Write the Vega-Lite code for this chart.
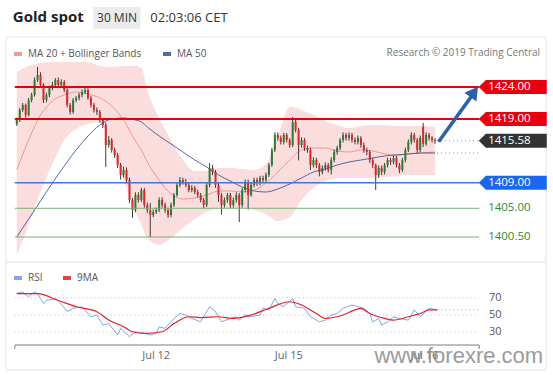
{
"$schema": "https://vega.github.io/schema/vega-lite/v6.json",
"width": 553, "height": 375,
"autosize": {"type": "fit", "contains": "padding"},
"padding": 0,
"background": "#ffffff",
"config": {"view": {"stroke": null}, "font": "Open Sans", "legend": {"padding": 0}},
"datasets": {
"candles": [
{"i":0,"o":1418.2,"h":1419.2,"l":1417.9,"c":1418.83},{"i":1,"o":1418.83,"h":1420.7,"l":1418.5,"c":1420.4},{"i":2,"o":1420.4,"h":1421.5,"l":1420.1,"c":1421.18},{"i":3,"o":1421.18,"h":1421.4,"l":1419.2,"c":1419.61},{"i":4,"o":1419.61,"h":1422.3,"l":1419.4,"c":1421.96},{"i":5,"o":1421.96,"h":1423.1,"l":1421.6,"c":1422.75},{"i":6,"o":1422.75,"h":1425.5,"l":1422.5,"c":1425.1},{"i":7,"o":1425.1,"h":1427.13,"l":1424.8,"c":1425.88},{"i":8,"o":1425.88,"h":1426.3,"l":1424.0,"c":1424.31},{"i":9,"o":1424.31,"h":1424.6,"l":1421.5,"c":1421.96},
{"i":10,"o":1421.96,"h":1423.1,"l":1421.6,"c":1422.75},{"i":11,"o":1422.75,"h":1424.2,"l":1422.4,"c":1423.84},{"i":12,"o":1423.84,"h":1424.8,"l":1423.5,"c":1424.31},{"i":13,"o":1424.31,"h":1425.4,"l":1424.0,"c":1425.1},{"i":14,"o":1425.1,"h":1425.5,"l":1424.0,"c":1424.31},{"i":15,"o":1424.31,"h":1425.2,"l":1424.0,"c":1424.78},{"i":16,"o":1424.78,"h":1425.1,"l":1423.2,"c":1423.53},{"i":17,"o":1423.53,"h":1423.8,"l":1420.8,"c":1421.18},{"i":18,"o":1421.18,"h":1421.5,"l":1419.7,"c":1420.08},{"i":19,"o":1420.08,"h":1422.3,"l":1419.8,"c":1421.96},
{"i":20,"o":1421.96,"h":1422.6,"l":1421.6,"c":1422.28},{"i":21,"o":1422.28,"h":1423.1,"l":1421.9,"c":1422.75},{"i":22,"o":1422.75,"h":1423.6,"l":1422.4,"c":1423.22},{"i":23,"o":1423.22,"h":1424.0,"l":1422.9,"c":1423.53},{"i":24,"o":1423.53,"h":1423.8,"l":1422.0,"c":1422.28},{"i":25,"o":1422.28,"h":1422.6,"l":1420.8,"c":1421.18},{"i":26,"o":1421.18,"h":1421.5,"l":1420.0,"c":1420.4},{"i":27,"o":1420.4,"h":1420.8,"l":1419.6,"c":1420.08},{"i":28,"o":1420.08,"h":1420.4,"l":1418.4,"c":1418.83},{"i":29,"o":1418.83,"h":1419.1,"l":1417.6,"c":1418.05},
{"i":30,"o":1418.05,"h":1418.4,"l":1411.47,"c":1414.91},{"i":31,"o":1414.91,"h":1416.3,"l":1414.5,"c":1415.7},{"i":32,"o":1415.7,"h":1416.0,"l":1413.7,"c":1414.13},{"i":33,"o":1414.13,"h":1414.5,"l":1412.9,"c":1413.35},{"i":34,"o":1413.35,"h":1413.7,"l":1411.3,"c":1411.78},{"i":35,"o":1411.78,"h":1412.1,"l":1409.5,"c":1410.21},{"i":36,"o":1410.21,"h":1411.5,"l":1409.8,"c":1411.0},{"i":37,"o":1411.0,"h":1411.4,"l":1409.0,"c":1409.43},{"i":38,"o":1409.43,"h":1409.8,"l":1405.8,"c":1406.3},{"i":39,"o":1406.3,"h":1406.6,"l":1403.5,"c":1404.73},
{"i":40,"o":1404.73,"h":1407.5,"l":1404.4,"c":1407.08},{"i":41,"o":1407.08,"h":1407.5,"l":1405.9,"c":1406.3},{"i":42,"o":1406.3,"h":1408.2,"l":1406.0,"c":1407.86},{"i":43,"o":1407.86,"h":1408.2,"l":1405.1,"c":1405.51},{"i":44,"o":1405.51,"h":1405.9,"l":1404.3,"c":1404.73},{"i":45,"o":1404.73,"h":1405.8,"l":1400.5,"c":1403.95},{"i":46,"o":1403.95,"h":1404.8,"l":1403.6,"c":1404.42},{"i":47,"o":1404.42,"h":1405.1,"l":1404.1,"c":1404.73},{"i":48,"o":1404.73,"h":1406.7,"l":1404.4,"c":1406.3},{"i":49,"o":1406.3,"h":1406.7,"l":1405.1,"c":1405.51},
{"i":50,"o":1405.51,"h":1405.9,"l":1404.3,"c":1404.73},{"i":51,"o":1404.73,"h":1405.1,"l":1403.5,"c":1403.95},{"i":52,"o":1403.95,"h":1405.9,"l":1403.6,"c":1405.51},{"i":53,"o":1405.51,"h":1407.4,"l":1405.2,"c":1407.08},{"i":54,"o":1407.08,"h":1409.0,"l":1406.8,"c":1408.65},{"i":55,"o":1408.65,"h":1409.9,"l":1408.3,"c":1409.43},{"i":56,"o":1409.43,"h":1409.8,"l":1408.7,"c":1409.12},{"i":57,"o":1409.12,"h":1409.6,"l":1408.3,"c":1408.65},{"i":58,"o":1408.65,"h":1409.0,"l":1407.5,"c":1407.86},{"i":59,"o":1407.86,"h":1408.6,"l":1407.5,"c":1408.18},
{"i":60,"o":1408.18,"h":1408.5,"l":1407.2,"c":1407.55},{"i":61,"o":1407.55,"h":1407.9,"l":1406.7,"c":1407.08},{"i":62,"o":1407.08,"h":1407.4,"l":1405.9,"c":1406.3},{"i":63,"o":1406.3,"h":1406.6,"l":1405.0,"c":1405.51},{"i":64,"o":1405.51,"h":1409.0,"l":1405.2,"c":1408.65},{"i":65,"o":1408.65,"h":1412.09,"l":1408.3,"c":1411.31},{"i":66,"o":1411.31,"h":1411.8,"l":1410.2,"c":1410.68},{"i":67,"o":1410.68,"h":1411.0,"l":1408.2,"c":1408.65},{"i":68,"o":1408.65,"h":1409.0,"l":1406.0,"c":1407.08},{"i":69,"o":1407.08,"h":1407.4,"l":1404.0,"c":1405.51},
{"i":70,"o":1405.51,"h":1406.7,"l":1405.1,"c":1406.3},{"i":71,"o":1406.3,"h":1407.4,"l":1405.9,"c":1407.08},{"i":72,"o":1407.08,"h":1407.4,"l":1405.0,"c":1405.51},{"i":73,"o":1405.51,"h":1406.7,"l":1405.1,"c":1406.3},{"i":74,"o":1406.3,"h":1407.5,"l":1405.9,"c":1407.08},{"i":75,"o":1407.08,"h":1407.4,"l":1402.85,"c":1405.51},{"i":76,"o":1405.51,"h":1408.2,"l":1405.1,"c":1407.86},{"i":77,"o":1407.86,"h":1409.5,"l":1407.5,"c":1409.12},{"i":78,"o":1409.12,"h":1409.5,"l":1404.8,"c":1407.08},{"i":79,"o":1407.08,"h":1409.0,"l":1406.8,"c":1408.65},
{"i":80,"o":1408.65,"h":1409.8,"l":1408.3,"c":1409.43},{"i":81,"o":1409.43,"h":1409.8,"l":1408.5,"c":1408.96},{"i":82,"o":1408.96,"h":1410.1,"l":1408.6,"c":1409.74},{"i":83,"o":1409.74,"h":1410.1,"l":1409.0,"c":1409.43},{"i":84,"o":1409.43,"h":1410.6,"l":1409.1,"c":1410.21},{"i":85,"o":1410.21,"h":1412.1,"l":1409.9,"c":1411.78},{"i":86,"o":1411.78,"h":1414.5,"l":1411.5,"c":1414.13},{"i":87,"o":1414.13,"h":1416.9,"l":1413.8,"c":1416.48},{"i":88,"o":1416.48,"h":1416.9,"l":1415.6,"c":1416.01},{"i":89,"o":1416.01,"h":1416.4,"l":1415.0,"c":1415.38},
{"i":90,"o":1415.38,"h":1416.8,"l":1415.0,"c":1416.48},{"i":91,"o":1416.48,"h":1416.8,"l":1415.3,"c":1415.7},{"i":92,"o":1415.7,"h":1416.0,"l":1414.5,"c":1414.91},{"i":93,"o":1414.91,"h":1419.3,"l":1414.6,"c":1418.52},{"i":94,"o":1418.52,"h":1418.9,"l":1416.9,"c":1417.26},{"i":95,"o":1417.26,"h":1417.6,"l":1412.5,"c":1414.91},{"i":96,"o":1414.91,"h":1416.1,"l":1414.5,"c":1415.7},{"i":97,"o":1415.7,"h":1416.0,"l":1414.0,"c":1414.44},{"i":98,"o":1414.44,"h":1414.8,"l":1413.7,"c":1414.13},{"i":99,"o":1414.13,"h":1414.5,"l":1411.0,"c":1411.78},
{"i":100,"o":1411.78,"h":1413.0,"l":1411.4,"c":1412.56},{"i":101,"o":1412.56,"h":1412.9,"l":1411.3,"c":1411.78},{"i":102,"o":1411.78,"h":1412.1,"l":1410.0,"c":1410.68},{"i":103,"o":1410.68,"h":1411.7,"l":1410.3,"c":1411.31},{"i":104,"o":1411.31,"h":1412.2,"l":1410.9,"c":1411.78},{"i":105,"o":1411.78,"h":1412.1,"l":1410.6,"c":1411.0},{"i":106,"o":1411.0,"h":1413.0,"l":1410.3,"c":1412.56},{"i":107,"o":1412.56,"h":1414.2,"l":1412.2,"c":1413.82},{"i":108,"o":1413.82,"h":1414.8,"l":1413.4,"c":1414.44},{"i":109,"o":1414.44,"h":1416.0,"l":1414.1,"c":1415.7},
{"i":110,"o":1415.7,"h":1416.9,"l":1415.3,"c":1416.48},{"i":111,"o":1416.48,"h":1416.8,"l":1415.6,"c":1416.01},{"i":112,"o":1416.01,"h":1416.9,"l":1415.6,"c":1416.48},{"i":113,"o":1416.48,"h":1416.8,"l":1415.3,"c":1415.7},{"i":114,"o":1415.7,"h":1416.1,"l":1415.0,"c":1415.38},{"i":115,"o":1415.38,"h":1416.4,"l":1415.0,"c":1416.01},{"i":116,"o":1416.01,"h":1416.3,"l":1414.5,"c":1414.91},{"i":117,"o":1414.91,"h":1415.3,"l":1413.7,"c":1414.13},{"i":118,"o":1414.13,"h":1414.5,"l":1413.3,"c":1413.82},{"i":119,"o":1413.82,"h":1414.1,"l":1412.1,"c":1412.56},
{"i":120,"o":1412.56,"h":1412.9,"l":1411.3,"c":1411.78},{"i":121,"o":1411.78,"h":1412.0,"l":1407.86,"c":1410.21},{"i":122,"o":1410.21,"h":1411.7,"l":1409.8,"c":1411.31},{"i":123,"o":1411.31,"h":1411.7,"l":1410.2,"c":1410.68},{"i":124,"o":1410.68,"h":1412.1,"l":1410.3,"c":1411.78},{"i":125,"o":1411.78,"h":1412.9,"l":1411.4,"c":1412.56},{"i":126,"o":1412.56,"h":1412.9,"l":1411.8,"c":1412.25},{"i":127,"o":1412.25,"h":1413.2,"l":1411.9,"c":1412.88},{"i":128,"o":1412.88,"h":1413.2,"l":1411.4,"c":1411.78},{"i":129,"o":1411.78,"h":1412.1,"l":1410.5,"c":1411.0},
{"i":130,"o":1411.0,"h":1412.9,"l":1410.7,"c":1412.56},{"i":131,"o":1412.56,"h":1414.5,"l":1412.2,"c":1414.13},{"i":132,"o":1414.13,"h":1415.8,"l":1413.8,"c":1415.38},{"i":133,"o":1415.38,"h":1416.9,"l":1415.0,"c":1416.48},{"i":134,"o":1416.48,"h":1416.8,"l":1415.3,"c":1415.7},{"i":135,"o":1415.7,"h":1416.0,"l":1413.6,"c":1414.13},{"i":136,"o":1414.13,"h":1416.4,"l":1413.8,"c":1416.0},{"i":137,"o":1417.8,"h":1418.36,"l":1414.6,"c":1415.1},{"i":138,"o":1415.1,"h":1416.9,"l":1414.8,"c":1416.48},{"i":139,"o":1416.48,"h":1416.8,"l":1415.6,"c":1416.01},
{"i":140,"o":1416.01,"h":1416.3,"l":1415.3,"c":1415.7},{"i":141,"o":1415.7,"h":1416.0,"l":1415.1,"c":1415.58}
],
"bands": [
{"i":0,"up":1426.35,"lo":1397.68,"ma20":1411.0,"ma50":1400.5},{"i":4,"up":1427.29,"lo":1402.38,"ma20":1415.7,"ma50":1403.32},{"i":8,"up":1427.76,"lo":1407.55,"ma20":1419.61,"ma50":1406.14},{"i":12,"up":1427.92,"lo":1411.94,"ma20":1421.81,"ma50":1408.96},{"i":16,"up":1427.92,"lo":1415.7,"ma20":1422.75,"ma50":1411.62},{"i":20,"up":1427.92,"lo":1417.42,"ma20":1423.22,"ma50":1414.13},{"i":24,"up":1427.92,"lo":1418.2,"ma20":1422.9,"ma50":1416.32},{"i":28,"up":1427.29,"lo":1418.52,"ma20":1422.28,"ma50":1418.05},{"i":32,"up":1427.13,"lo":1414.44,"ma20":1421.02,"ma50":1418.99},{"i":36,"up":1427.29,"lo":1409.43,"ma20":1418.83,"ma50":1419.14},{"i":40,"up":1427.29,"lo":1404.42,"ma20":1415.54,"ma50":1418.83},{"i":42,"up":1426.98,"lo":1402.38,"ma20":1414.13,"ma50":1418.52},{"i":44,"up":1423.53,"lo":1400.34,"ma20":1412.25,"ma50":1417.73},{"i":48,"up":1419.14,"lo":1399.25,"ma20":1409.43,"ma50":1416.32},{"i":52,"up":1415.7,"lo":1400.34,"ma20":1407.24,"ma50":1415.07},{"i":56,"up":1412.56,"lo":1401.91,"ma20":1406.45,"ma50":1413.82},{"i":60,"up":1410.84,"lo":1403.32,"ma20":1406.61,"ma50":1412.56},{"i":64,"up":1410.84,"lo":1404.42,"ma20":1407.08,"ma50":1411.47},{"i":68,"up":1411.31,"lo":1405.04,"ma20":1407.71,"ma50":1410.21},{"i":72,"up":1411.31,"lo":1405.04,"ma20":1407.71,"ma50":1409.27},{"i":76,"up":1411.15,"lo":1405.04,"ma20":1407.55,"ma50":1408.33},{"i":80,"up":1411.0,"lo":1404.73,"ma20":1407.86,"ma50":1407.71},{"i":84,"up":1411.94,"lo":1404.1,"ma20":1408.96,"ma50":1407.55},{"i":88,"up":1416.2,"lo":1403.01,"ma20":1410.68,"ma50":1408.02},{"i":92,"up":1420.9,"lo":1403.63,"ma20":1412.56,"ma50":1408.8},{"i":96,"up":1420.4,"lo":1406.3,"ma20":1414.13,"ma50":1409.74},{"i":100,"up":1419.6,"lo":1408.18,"ma20":1414.44,"ma50":1410.68},{"i":104,"up":1418.67,"lo":1409.27,"ma20":1414.44,"ma50":1411.15},{"i":108,"up":1418.05,"lo":1409.74,"ma20":1413.97,"ma50":1411.78},{"i":112,"up":1417.58,"lo":1409.74,"ma20":1413.82,"ma50":1412.25},{"i":116,"up":1417.89,"lo":1409.74,"ma20":1414.13,"ma50":1412.56},{"i":120,"up":1418.05,"lo":1409.74,"ma20":1413.97,"ma50":1412.88},{"i":124,"up":1418.05,"lo":1409.9,"ma20":1413.5,"ma50":1413.19},{"i":128,"up":1417.89,"lo":1410.06,"ma20":1413.35,"ma50":1413.35},{"i":132,"up":1417.89,"lo":1410.21,"ma20":1413.5,"ma50":1413.5},{"i":136,"up":1417.89,"lo":1410.21,"ma20":1413.66,"ma50":1413.66},{"i":141,"up":1417.73,"lo":1410.21,"ma20":1413.82,"ma50":1413.66}
],
"levels": [
{"p":1424,"lab":"1424.00","k":"res"},{"p":1419,"lab":"1419.00","k":"res"},{"p":1409,"lab":"1409.00","k":"sup"},{"p":1405,"lab":"1405.00","k":"minor"},{"p":1400.5,"lab":"1400.50","k":"minor"}
],
"tags": [
{"p":1424,"lab":"1424.00","k":"res"},{"p":1419,"lab":"1419.00","k":"res"},{"p":1415.58,"lab":"1415.58","k":"last"},{"p":1409,"lab":"1409.00","k":"sup"}
],
"rsi": [
{"i":0,"v":75.3},{"i":2,"v":77},{"i":4,"v":71.4},{"i":6,"v":77},{"i":7,"v":75},{"i":9,"v":63.6},{"i":10,"v":67},{"i":13,"v":69},{"i":14,"v":67},{"i":17,"v":54},{"i":19,"v":57.8},{"i":22,"v":59.7},{"i":23,"v":56},{"i":25,"v":48},{"i":27,"v":50},{"i":29,"v":38.3},{"i":31,"v":40},{"i":34,"v":26.7},{"i":35,"v":34.5},{"i":38,"v":24.7},{"i":40,"v":30.5},{"i":43,"v":28.6},{"i":45,"v":26.7},{"i":47,"v":28.6},{"i":48,"v":36},{"i":50,"v":34.5},{"i":53,"v":46},{"i":55,"v":51.7},{"i":57,"v":50},{"i":59,"v":46},{"i":62,"v":42},{"i":63,"v":48},{"i":65,"v":59.7},{"i":67,"v":54},{"i":69,"v":42},{"i":72,"v":46},{"i":74,"v":48},{"i":75,"v":44},{"i":77,"v":50},{"i":79,"v":48},{"i":82,"v":50},{"i":83,"v":57.8},{"i":85,"v":56},{"i":87,"v":69.4},{"i":88,"v":63.6},{"i":90,"v":59.7},{"i":93,"v":69.4},{"i":94,"v":59.7},{"i":97,"v":57.8},{"i":99,"v":48},{"i":102,"v":42},{"i":104,"v":44},{"i":106,"v":50},{"i":108,"v":51.7},{"i":110,"v":57.8},{"i":113,"v":61.7},{"i":115,"v":59.7},{"i":117,"v":57.8},{"i":119,"v":51.7},{"i":120,"v":42},{"i":122,"v":46},{"i":123,"v":38.3},{"i":125,"v":42},{"i":127,"v":48},{"i":129,"v":46},{"i":132,"v":44},{"i":134,"v":56},{"i":136,"v":48},{"i":139,"v":57.8},{"i":141.7,"v":56}
],
"rsima": [
{"i":0,"v":75},{"i":7,"v":75},{"i":14,"v":67},{"i":20,"v":59.7},{"i":27,"v":53.9},{"i":31,"v":44.2},{"i":36,"v":36.4},{"i":39,"v":30.5},{"i":43,"v":28.6},{"i":49,"v":30.5},{"i":53,"v":40},{"i":58,"v":48},{"i":62,"v":47},{"i":68,"v":48},{"i":73,"v":46},{"i":79,"v":50},{"i":85,"v":57.8},{"i":92,"v":65.5},{"i":96,"v":61.7},{"i":101,"v":51.7},{"i":104,"v":46},{"i":110,"v":50},{"i":114,"v":56},{"i":116,"v":57.8},{"i":119,"v":51.7},{"i":124,"v":46},{"i":127,"v":44},{"i":132,"v":48},{"i":136,"v":51.7},{"i":139,"v":56},{"i":141.7,"v":56}
],
"rsigrid": [{"v":70,"t":"70"},{"v":50,"t":"50"},{"v":30,"t":"30"}],
"days": [{"i":47,"t":"Jul 12"},{"i":91.7,"t":"Jul 15"},{"i":137.4,"t":"Jul 16"}],
"ends": [{"i":-0.66},{"i":155.9}],
"arrow": [{"i":142.2,"p":1415.43},{"i":154.0,"p":1423.0}],
"one": [{}]
},
"resolve": {"scale": {"y": "independent"}},
"layer": [
{
"layer": [
{"data": {"name": "one"}, "mark": {"type": "rect", "fillOpacity": 0, "stroke": "#e4e4e4", "strokeWidth": 1},
 "encoding": {"x": {"datum": -3.64, "type": "quantitative", "scale": {"domain": [-3.97, 179.08], "nice": false, "zero": false}, "axis": null}, "x2": {"datum": 178.4},
  "y": {"datum": 1431.83, "type": "quantitative", "scale": {"domain": [1378.88, 1437.63], "nice": false, "zero": false}, "axis": null}, "y2": {"datum": 1379.66}}},
{"data": {"name": "one"}, "mark": {"type": "rule", "stroke": "#e4e4e4", "strokeWidth": 1},
 "encoding": {"x": {"datum": -3.64, "type": "quantitative", "scale": {"domain": [-3.97, 179.08], "nice": false, "zero": false}, "axis": null}, "x2": {"datum": 178.4},
  "y": {"datum": 1396.58, "type": "quantitative", "scale": {"domain": [1378.88, 1437.63], "nice": false, "zero": false}, "axis": null}}},
{"data": {"name": "one"}, "mark": {"type": "rect", "fill": "#ebebeb"},
 "encoding": {"x": {"datum": 25.8, "type": "quantitative", "scale": {"domain": [-3.97, 179.08], "nice": false, "zero": false}, "axis": null}, "x2": {"datum": 41.7},
  "y": {"datum": 1436.53, "type": "quantitative", "scale": {"domain": [1378.88, 1437.63], "nice": false, "zero": false}, "axis": null}, "y2": {"datum": 1433.09}}},
{"data": {"name": "one"}, "mark": {"type": "text", "text": "Gold spot", "font": "Open Sans", "fontSize": 15, "fontWeight": "bold", "fill": "#222222", "align": "left", "baseline": "middle"},
 "encoding": {"x": {"datum": -1.32, "type": "quantitative", "scale": {"domain": [-3.97, 179.08], "nice": false, "zero": false}, "axis": null},
  "y": {"datum": 1434.89, "type": "quantitative", "scale": {"domain": [1378.88, 1437.63], "nice": false, "zero": false}, "axis": null}}},
{"data": {"name": "one"}, "mark": {"type": "text", "text": "30 MIN", "font": "Open Sans", "fontSize": 12, "fill": "#333333", "align": "center", "baseline": "middle"},
 "encoding": {"x": {"datum": 33.8, "type": "quantitative", "scale": {"domain": [-3.97, 179.08], "nice": false, "zero": false}, "axis": null},
  "y": {"datum": 1434.81, "type": "quantitative", "scale": {"domain": [1378.88, 1437.63], "nice": false, "zero": false}, "axis": null}}},
{"data": {"name": "one"}, "mark": {"type": "text", "text": "02:03:06 CET", "font": "Open Sans", "fontSize": 13, "fill": "#333333", "align": "left", "baseline": "middle"},
 "encoding": {"x": {"datum": 45.0, "type": "quantitative", "scale": {"domain": [-3.97, 179.08], "nice": false, "zero": false}, "axis": null},
  "y": {"datum": 1434.81, "type": "quantitative", "scale": {"domain": [1378.88, 1437.63], "nice": false, "zero": false}, "axis": null}}},
{"data": {"name": "one"}, "mark": {"type": "text", "text": "Research © 2019 Trading Central", "font": "Open Sans", "fontSize": 10, "fill": "#777777", "align": "right", "baseline": "middle"},
 "encoding": {"x": {"datum": 176.4, "type": "quantitative", "scale": {"domain": [-3.97, 179.08], "nice": false, "zero": false}, "axis": null},
  "y": {"datum": 1429.33, "type": "quantitative", "scale": {"domain": [1378.88, 1437.63], "nice": false, "zero": false}, "axis": null}}},
{"data": {"name": "bands"}, "mark": {"type": "area", "fill": "#fcdddd", "interpolate": "monotone"},
 "encoding": {"x": {"field": "i", "type": "quantitative", "scale": {"domain": [-3.97, 179.08], "nice": false, "zero": false}, "axis": null},
  "y": {"field": "up", "type": "quantitative", "scale": {"domain": [1378.88, 1437.63], "nice": false, "zero": false}, "axis": null}, "y2": {"field": "lo"}}},
{"data": {"name": "bands"}, "transform": [{"fold": ["ma20", "ma50"], "as": ["series", "v"]}],
 "mark": {"type": "line", "strokeWidth": 1, "interpolate": "monotone", "opacity": 0.85},
 "encoding": {"x": {"field": "i", "type": "quantitative", "scale": {"domain": [-3.97, 179.08], "nice": false, "zero": false}, "axis": null},
  "y": {"field": "v", "type": "quantitative", "scale": {"domain": [1378.88, 1437.63], "nice": false, "zero": false}, "axis": null},
  "color": {"field": "series", "type": "nominal", "scale": {"domain": ["ma20", "ma50"], "range": ["#ec8a8a", "#2f5597"]},
   "legend": {"orient": "none", "legendX": 12, "legendY": 48, "direction": "horizontal", "title": null, "symbolType": "stroke", "symbolStrokeWidth": 4, "symbolSize": 64, "labelFont": "Open Sans", "labelFontSize": 10, "labelColor": "#555555", "labelOffset": 4, "columnPadding": 13, "labelExpr": "datum.label == 'ma20' ? 'MA 20 + Bollinger Bands' : 'MA 50'"}}}},
{"data": {"name": "candles"}, "mark": {"type": "rule", "stroke": "#3c3c3c", "strokeWidth": 1},
 "encoding": {"x": {"field": "i", "type": "quantitative", "scale": {"domain": [-3.97, 179.08], "nice": false, "zero": false}, "axis": null},
  "y": {"field": "l", "type": "quantitative", "scale": {"domain": [1378.88, 1437.63], "nice": false, "zero": false}, "axis": null}, "y2": {"field": "h"}}},
{"data": {"name": "candles"}, "mark": {"type": "bar", "orient": "vertical", "size": 2},
 "encoding": {"x": {"field": "i", "type": "quantitative", "scale": {"domain": [-3.97, 179.08], "nice": false, "zero": false}, "axis": null},
  "y": {"field": "o", "type": "quantitative", "scale": {"domain": [1378.88, 1437.63], "nice": false, "zero": false}, "axis": null}, "y2": {"field": "c"},
  "fill": {"condition": {"test": "datum.c >= datum.o", "value": "#2e7a34"}, "value": "#d42a2a"}}},
{"data": {"name": "levels"}, "transform": [{"filter": "datum.k == 'res'"}], "mark": {"type": "rule", "stroke": "#e3000f", "strokeWidth": 2},
 "encoding": {"x": {"datum": -0.66, "type": "quantitative", "scale": {"domain": [-3.97, 179.08], "nice": false, "zero": false}, "axis": null}, "x2": {"datum": 155.9},
  "y": {"field": "p", "type": "quantitative", "scale": {"domain": [1378.88, 1437.63], "nice": false, "zero": false}, "axis": null}}},
{"data": {"name": "levels"}, "transform": [{"filter": "datum.k == 'sup'"}], "mark": {"type": "rule", "stroke": "#3b78e7", "strokeWidth": 1.5},
 "encoding": {"x": {"datum": -0.66, "type": "quantitative", "scale": {"domain": [-3.97, 179.08], "nice": false, "zero": false}, "axis": null}, "x2": {"datum": 155.9},
  "y": {"field": "p", "type": "quantitative", "scale": {"domain": [1378.88, 1437.63], "nice": false, "zero": false}, "axis": null}}},
{"data": {"name": "levels"}, "transform": [{"filter": "datum.k == 'minor'"}], "mark": {"type": "rule", "stroke": "#78b078", "strokeWidth": 1},
 "encoding": {"x": {"datum": -0.66, "type": "quantitative", "scale": {"domain": [-3.97, 179.08], "nice": false, "zero": false}, "axis": null}, "x2": {"datum": 155.9},
  "y": {"field": "p", "type": "quantitative", "scale": {"domain": [1378.88, 1437.63], "nice": false, "zero": false}, "axis": null}}},
{"data": {"name": "tags"}, "transform": [{"filter": "datum.k == 'last'"}], "mark": {"type": "rule", "stroke": "#888888", "strokeWidth": 1, "strokeDash": [1, 3]},
 "encoding": {"x": {"datum": 141.7, "type": "quantitative", "scale": {"domain": [-3.97, 179.08], "nice": false, "zero": false}, "axis": null}, "x2": {"datum": 155.9},
  "y": {"field": "p", "type": "quantitative", "scale": {"domain": [1378.88, 1437.63], "nice": false, "zero": false}, "axis": null}}},
{"data": {"name": "bands"}, "transform": [{"filter": "datum.i == 141"}], "mark": {"type": "rule", "stroke": "#888888", "strokeWidth": 1, "strokeDash": [1, 3]},
 "encoding": {"x": {"datum": 141.7, "type": "quantitative", "scale": {"domain": [-3.97, 179.08], "nice": false, "zero": false}, "axis": null}, "x2": {"datum": 155.9},
  "y": {"field": "ma50", "type": "quantitative", "scale": {"domain": [1378.88, 1437.63], "nice": false, "zero": false}, "axis": null}}},
{"data": {"name": "arrow"}, "mark": {"type": "line", "stroke": "#2d60a8", "strokeWidth": 3.5},
 "encoding": {"x": {"field": "i", "type": "quantitative", "scale": {"domain": [-3.97, 179.08], "nice": false, "zero": false}, "axis": null},
  "y": {"field": "p", "type": "quantitative", "scale": {"domain": [1378.88, 1437.63], "nice": false, "zero": false}, "axis": null}}},
{"data": {"name": "one"}, "mark": {"type": "point", "shape": "triangle-up", "filled": true, "fill": "#2d60a8", "opacity": 1, "size": 220, "angle": 36},
 "encoding": {"x": {"datum": 154.2, "type": "quantitative", "scale": {"domain": [-3.97, 179.08], "nice": false, "zero": false}, "axis": null},
  "y": {"datum": 1423.23, "type": "quantitative", "scale": {"domain": [1378.88, 1437.63], "nice": false, "zero": false}, "axis": null}}},
{"data": {"name": "tags"}, "mark": {"type": "point", "shape": "M-1,0L-0.79,-0.206L1,-0.206L1,0.206L-0.79,0.206Z", "filled": true, "opacity": 1, "size": 4624, "strokeWidth": 0},
 "encoding": {"x": {"datum": 167.2, "type": "quantitative", "scale": {"domain": [-3.97, 179.08], "nice": false, "zero": false}, "axis": null},
  "y": {"field": "p", "type": "quantitative", "scale": {"domain": [1378.88, 1437.63], "nice": false, "zero": false}, "axis": null},
  "fill": {"condition": [{"test": "datum.k == 'res'", "value": "#e8000e"}, {"test": "datum.k == 'sup'", "value": "#1a66ee"}], "value": "#333333"}}},
{"data": {"name": "tags"}, "mark": {"type": "text", "font": "Open Sans", "fontSize": 11.5, "fill": "#ffffff", "align": "left", "baseline": "middle"},
 "encoding": {"x": {"datum": 158.9, "type": "quantitative", "scale": {"domain": [-3.97, 179.08], "nice": false, "zero": false}, "axis": null},
  "y": {"field": "p", "type": "quantitative", "scale": {"domain": [1378.88, 1437.63], "nice": false, "zero": false}, "axis": null},
  "text": {"field": "lab"}}},
{"data": {"name": "levels"}, "transform": [{"filter": "datum.k == 'minor'"}], "mark": {"type": "text", "font": "Open Sans", "fontSize": 11.5, "fill": "#2f8a3a", "align": "left", "baseline": "middle"},
 "encoding": {"x": {"datum": 158.9, "type": "quantitative", "scale": {"domain": [-3.97, 179.08], "nice": false, "zero": false}, "axis": null},
  "y": {"field": "p", "type": "quantitative", "scale": {"domain": [1378.88, 1437.63], "nice": false, "zero": false}, "axis": null},
  "text": {"field": "lab"}}}
]
},
{
"layer": [
{"data": {"name": "rsigrid"}, "mark": {"type": "rule", "stroke": "#c4c4c4", "strokeWidth": 1, "strokeDash": [1, 3]},
 "encoding": {"x": {"datum": -0.66, "type": "quantitative", "scale": {"domain": [-3.97, 179.08], "nice": false, "zero": false}, "axis": null}, "x2": {"datum": 155.9},
  "y": {"field": "v", "type": "quantitative", "scale": {"domain": [-20, 417.6], "nice": false, "zero": false}, "axis": null}}},
{"data": {"name": "rsigrid"}, "mark": {"type": "text", "font": "Open Sans", "fontSize": 11, "fill": "#555555", "align": "left", "baseline": "middle"},
 "encoding": {"x": {"datum": 159.2, "type": "quantitative", "scale": {"domain": [-3.97, 179.08], "nice": false, "zero": false}, "axis": null},
  "y": {"field": "v", "type": "quantitative", "scale": {"domain": [-20, 417.6], "nice": false, "zero": false}, "axis": null},
  "text": {"field": "t"}}},
{"data": {"name": "one"}, "mark": {"type": "rule", "stroke": "#999999", "strokeWidth": 1, "strokeDash": [1, 3]},
 "encoding": {"x": {"datum": 141.7, "type": "quantitative", "scale": {"domain": [-3.97, 179.08], "nice": false, "zero": false}, "axis": null}, "x2": {"datum": 155.9},
  "y": {"datum": 56, "type": "quantitative", "scale": {"domain": [-20, 417.6], "nice": false, "zero": false}, "axis": null}}},
{"data": {"name": "rsi"}, "mark": {"type": "line", "strokeWidth": 1, "opacity": 0.85},
 "encoding": {"x": {"field": "i", "type": "quantitative", "scale": {"domain": [-3.97, 179.08], "nice": false, "zero": false}, "axis": null},
  "y": {"field": "v", "type": "quantitative", "scale": {"domain": [-20, 417.6], "nice": false, "zero": false}, "axis": null},
  "stroke": {"datum": "RSI", "type": "nominal", "scale": {"domain": ["RSI", "9MA"], "range": ["#7393dc", "#e3232a"]},
   "legend": {"orient": "none", "legendX": 12, "legendY": 272, "direction": "horizontal", "title": null, "symbolType": "stroke", "symbolStrokeWidth": 4, "symbolSize": 64, "labelFont": "Open Sans", "labelFontSize": 10, "labelColor": "#555555", "labelOffset": 4, "columnPadding": 12}}}},
{"data": {"name": "rsima"}, "mark": {"type": "line", "strokeWidth": 1.2, "interpolate": "monotone"},
 "encoding": {"x": {"field": "i", "type": "quantitative", "scale": {"domain": [-3.97, 179.08], "nice": false, "zero": false}, "axis": null},
  "y": {"field": "v", "type": "quantitative", "scale": {"domain": [-20, 417.6], "nice": false, "zero": false}, "axis": null},
  "stroke": {"datum": "9MA", "type": "nominal", "scale": {"domain": ["RSI", "9MA"], "range": ["#7393dc", "#e3232a"]}}}},
{"data": {"name": "one"}, "mark": {"type": "rule", "stroke": "#a8a8a8", "strokeWidth": 1.5},
 "encoding": {"x": {"datum": -0.66, "type": "quantitative", "scale": {"domain": [-3.97, 179.08], "nice": false, "zero": false}, "axis": null}, "x2": {"datum": 155.9},
  "y": {"datum": 15, "type": "quantitative", "scale": {"domain": [-20, 417.6], "nice": false, "zero": false}, "axis": null}}},
{"data": {"name": "ends"}, "mark": {"type": "rule", "stroke": "#a8a8a8", "strokeWidth": 1.5},
 "encoding": {"x": {"field": "i", "type": "quantitative", "scale": {"domain": [-3.97, 179.08], "nice": false, "zero": false}, "axis": null},
  "y": {"datum": 15, "type": "quantitative", "scale": {"domain": [-20, 417.6], "nice": false, "zero": false}, "axis": null}, "y2": {"datum": 10.3}}},
{"data": {"name": "days"}, "mark": {"type": "text", "font": "Open Sans", "fontSize": 11, "fill": "#666666", "align": "center", "baseline": "middle"},
 "encoding": {"x": {"field": "i", "type": "quantitative", "scale": {"domain": [-3.97, 179.08], "nice": false, "zero": false}, "axis": null},
  "y": {"datum": 2.15, "type": "quantitative", "scale": {"domain": [-20, 417.6], "nice": false, "zero": false}, "axis": null},
  "text": {"field": "t"}}},
{"data": {"name": "one"}, "mark": {"type": "text", "text": "www.forexre.com", "font": "Liberation Sans", "fontSize": 22, "fill": "#8a8a8a", "opacity": 0.85, "align": "center", "baseline": "middle"},
 "encoding": {"x": {"datum": 149, "type": "quantitative", "scale": {"domain": [-3.97, 179.08], "nice": false, "zero": false}, "axis": null},
  "y": {"datum": 2.15, "type": "quantitative", "scale": {"domain": [-20, 417.6], "nice": false, "zero": false}, "axis": null}}}
]
}
]
}
